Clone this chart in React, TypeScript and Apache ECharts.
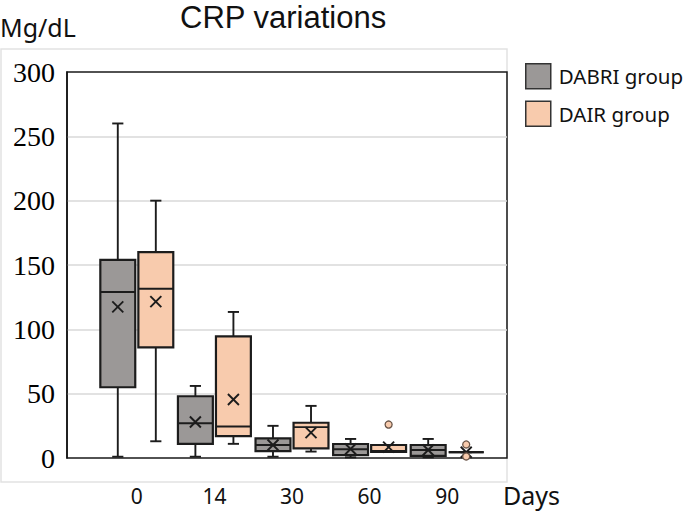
import React, { useEffect, useRef } from 'react';
import * as echarts from 'echarts';

const days = ['0', '14', '30', '60', '90'];
const seriesNames = ['DABRI group', 'DAIR group'];
// per day: [min, q1, median, q3, max, mean]
const dabriStats = [
  [1, 55, 129, 154, 260, 117.5],
  [1, 11, 27, 48, 56, 28],
  [1, 5.4, 10.1, 15.3, 25, 10.1],
  [0.5, 2.3, 6.8, 10.9, 14.8, 7],
  [0.5, 1.6, 6.2, 10.1, 14.8, 6.2],
];
const dairStats = [
  [13, 86, 131.5, 160, 200, 121.5],
  [11, 17, 24.5, 94.5, 113.5, 45.5],
  [5, 7.5, 24, 27.4, 40.5, 19.7],
  [4.7, 4.7, 5.5, 10.1, 10.1, 8.5],
  [4.5, 4.5, 4.5, 4.5, 4.5, 4.5],
];
// [day index, value]
const dairOutliers = [
  [3, 26],
  [4, 10.5],
  [4, 1.2],
];
const yTicks = { min: 0, max: 300, interval: 50 };

const GRAY = '#9b9897';
const PEACH = '#f8cbad';
const INK = '#1c1c1c';
const SANS = 'Noto Sans';

function boxRenderer(side: number, fill: string) {
  return (params: any, api: any) => {
    const idx = api.value(0);
    const band = api.size([1, 0])[0];
    const w = band * 0.45;
    const cap = band * 0.072;
    const cx = api.coord([idx, 0])[0] + side * band * 0.245;
    const y = (d: number) => api.coord([idx, api.value(d)])[1];
    const yMin = y(1), yQ1 = y(2), yMed = y(3), yQ3 = y(4), yMax = y(5), yMean = y(6);
    const ls = { stroke: INK, lineWidth: 1.9 };
    const xs = 5.5;
    return {
      type: 'group',
      children: [
        { type: 'line', shape: { x1: cx, y1: yMax, x2: cx, y2: yQ3 }, style: ls },
        { type: 'line', shape: { x1: cx, y1: yQ1, x2: cx, y2: yMin }, style: ls },
        { type: 'line', shape: { x1: cx - cap, y1: yMax, x2: cx + cap, y2: yMax }, style: ls },
        { type: 'line', shape: { x1: cx - cap, y1: yMin, x2: cx + cap, y2: yMin }, style: ls },
        {
          type: 'rect',
          shape: { x: cx - w / 2, y: yQ3, width: w, height: yQ1 - yQ3 },
          style: { fill, stroke: INK, lineWidth: 2.2 },
        },
        { type: 'line', shape: { x1: cx - w / 2, y1: yMed, x2: cx + w / 2, y2: yMed }, style: ls },
        { type: 'line', shape: { x1: cx - xs, y1: yMean - xs, x2: cx + xs, y2: yMean + xs }, style: ls },
        { type: 'line', shape: { x1: cx - xs, y1: yMean + xs, x2: cx + xs, y2: yMean - xs }, style: ls },
      ],
    };
  };
}

export default function App() {
  const ref = useRef<HTMLDivElement>(null);
  useEffect(() => {
    document.body.style.margin = '0';
    const chart = echarts.init(ref.current!, null, { renderer: 'svg' });
    const dabriData = dabriStats.map((s, i) => [i, ...s]);
    const dairData = dairStats.map((s, i) => [i, ...s]);
    chart.setOption({
      animation: false,
      backgroundColor: '#fff',
      title: [
        {
          text: 'CRP variations',
          left: 180,
          top: 2,
          padding: 0,
          textStyle: { fontFamily: 'Liberation Sans', fontSize: 31, fontWeight: 'normal', color: '#111' },
        },
        {
          text: 'Mg/dL',
          left: 0,
          top: 14,
          padding: 0,
          textStyle: { fontFamily: SANS, fontSize: 25, fontWeight: 'normal', color: '#111' },
        },
      ],
      legend: {
        orient: 'vertical',
        left: 525,
        top: 63,
        padding: 0,
        itemWidth: 25,
        itemHeight: 25,
        itemGap: 11,
        icon: 'rect',
        textStyle: { fontFamily: SANS, fontSize: 20.5, color: '#111', padding: [0, 0, 0, 3] },
        data: [
          { name: seriesNames[0], itemStyle: { color: GRAY, borderColor: '#333', borderWidth: 1.5 } },
          { name: seriesNames[1], itemStyle: { color: PEACH, borderColor: '#333', borderWidth: 1.5 } },
        ],
      },
      grid: [
        { left: 1, top: 49, width: 506, height: 433, show: true, borderColor: '#e2e2e2', borderWidth: 1.5, backgroundColor: 'transparent' },
        { left: 67, top: 72, width: 440, height: 386, show: true, borderColor: '#1a1a1a', borderWidth: 1.5, backgroundColor: 'transparent' },
        { left: 98, top: 72, width: 388, height: 386 },
      ],
      xAxis: [
        { gridIndex: 0, type: 'value', show: false },
        { gridIndex: 1, type: 'value', show: false },
        {
          gridIndex: 2,
          type: 'category',
          data: days,
          boundaryGap: true,
          axisLine: { show: false },
          axisTick: { show: false },
          axisLabel: { fontFamily: SANS, fontSize: 21, color: '#111', margin: 27 },
          name: 'Days',
          nameLocation: 'end',
          nameGap: 17,
          nameTextStyle: { fontFamily: SANS, fontSize: 25, color: '#111', verticalAlign: 'top', padding: [24, 0, 0, 0] },
        },
      ],
      yAxis: [
        { gridIndex: 0, type: 'value', show: false },
        {
          gridIndex: 1,
          type: 'value',
          min: yTicks.min,
          max: yTicks.max,
          interval: yTicks.interval,
          axisLine: { show: true, lineStyle: { color: '#111', width: 1.5 } },
          axisTick: { show: false },
          axisLabel: { fontFamily: 'Liberation Serif', fontSize: 28, color: '#000', margin: 12 },
          splitLine: { show: true, showMinLine: false, showMaxLine: false, lineStyle: { color: '#d9d9d9', width: 1.5 } },
        },
        { gridIndex: 2, type: 'value', min: yTicks.min, max: yTicks.max, show: false },
      ],
      series: [
        {
          name: seriesNames[0],
          type: 'custom',
          xAxisIndex: 2,
          yAxisIndex: 2,
          itemStyle: { color: GRAY },
          encode: { x: 0, y: [1, 5] },
          renderItem: boxRenderer(-1, GRAY),
          data: dabriData,
          z: 3,
        },
        {
          name: seriesNames[1],
          type: 'custom',
          xAxisIndex: 2,
          yAxisIndex: 2,
          itemStyle: { color: PEACH },
          encode: { x: 0, y: [1, 5] },
          renderItem: boxRenderer(1, PEACH),
          data: dairData,
          z: 3,
        },
        {
          name: seriesNames[1],
          type: 'custom',
          xAxisIndex: 2,
          yAxisIndex: 2,
          encode: { x: 0, y: 1 },
          renderItem: (params: any, api: any) => {
            const band = api.size([1, 0])[0];
            const p = api.coord([api.value(0), api.value(1)]);
            return {
              type: 'circle',
              shape: { cx: p[0] + band * 0.245, cy: p[1], r: 3.5 },
              style: { fill: PEACH, stroke: '#6a5548', lineWidth: 1.3 },
            };
          },
          data: dairOutliers,
          z: 4,
        },
      ],
    });
    return () => chart.dispose();
  }, []);
  return <div ref={ref} style={{ width: 685, height: 511 }} />;
}
